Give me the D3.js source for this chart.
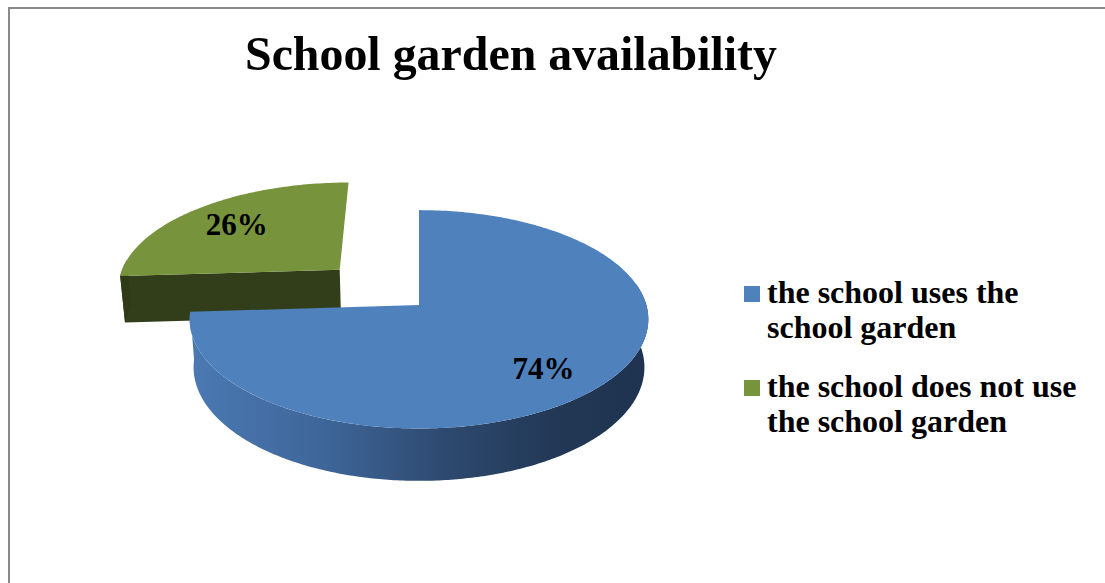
<!DOCTYPE html>
<html>
<head>
<meta charset="utf-8">
<script src="https://cdn.jsdelivr.net/npm/d3@7/dist/d3.min.js"></script>
<style>
  html, body { margin: 0; padding: 0; background: #ffffff; }
  svg { display: block; }
</style>
</head>
<body>
<svg id="chart" width="1105" height="583"></svg>
<script>
// ---- data ----
const categories = ["the school uses the school garden", "the school does not use the school garden"];
const values = [74, 26];
const valueLabels = ["74%", "26%"];
const legendLines = [["the school uses the", "school garden"], ["the school does not use", "the school garden"]];
const title = "School garden availability";

// ---- styles ----
const topColors = ["#4F81BD", "#77933C"];
const radialColors = ["#1f3350", "#323e19"];
const wallColorsGreen = "#2f3a17";
const explode = [0, 0.5];

const svg = d3.select("#chart");
const W = 1105, H = 583;

// border
svg.append("rect").attr("x", 9).attr("y", 8).attr("width", W + 10).attr("height", H + 10)
  .attr("fill", "#ffffff").attr("stroke", "#8a8a8a").attr("stroke-width", 2);

// title
svg.append("text").attr("x", 511).attr("y", 70).attr("text-anchor", "middle")
  .attr("font-family", "'Liberation Serif', 'Times New Roman', serif").attr("font-weight", "bold")
  .attr("font-size", 49).attr("textLength", 532).attr("lengthAdjust", "spacingAndGlyphs")
  .attr("fill", "#000").text(title);

// ---- 3D perspective projection ----
const cx = 419, cy = 305, F = 1530, L = 6.73, R = 1, thick = 0.242;
const phi = Math.asin(0.472), sp = Math.sin(phi), cp = Math.cos(phi);
function proj(u, w, h) {
  const d = L - (h * sp + w * cp);
  const yc = h * cp - w * sp;
  return [cx + F * u / d, cy - F * yc / d];
}

const pie = d3.pie().sort(null).startAngle(0).endAngle(2 * Math.PI);
const arcs = pie(values);

const line = d3.line().x(p => p[0]).y(p => p[1]);

function rimPts(a0, a1, ou, ow, h, n) {
  const pts = [];
  for (let i = 0; i <= n; i++) {
    const a = a0 + (a1 - a0) * i / n;
    pts.push(proj(ou + R * Math.sin(a), ow - R * Math.cos(a), h));
  }
  return pts;
}

// gradient for blue wall
const defs = svg.append("defs");
const grad = defs.append("linearGradient").attr("id", "wallBlue")
  .attr("gradientUnits", "userSpaceOnUse").attr("x1", 190).attr("x2", 648).attr("y1", 0).attr("y2", 0);
[[0, "#4b79b3"], [0.3, "#3e6598"], [0.55, "#2e4a70"], [0.8, "#223855"], [1, "#1f3350"]]
  .forEach(s => grad.append("stop").attr("offset", s[0]).attr("stop-color", s[1]));

const g = svg.append("g");
// draw back (exploded green) slice first, then blue
const order = [1, 0];
order.forEach(i => {
  const arc = arcs[i];
  const mid = (arc.startAngle + arc.endAngle) / 2;
  const ou = explode[i] * Math.sin(mid), ow = -explode[i] * Math.cos(mid);
  const a0 = arc.startAngle, a1 = arc.endAngle;
  const n = Math.max(8, Math.round((a1 - a0) * 60));
  const wallFill = i === 0 ? "url(#wallBlue)" : wallColorsGreen;
  // radial faces (only those facing the viewer)
  [[a0, a0 - Math.PI / 2], [a1, a1 + Math.PI / 2]].forEach(([a, na]) => {
    if (-Math.cos(na) <= 0.05) return;
    const pts = [proj(ou, ow, 0), proj(ou + R * Math.sin(a), ow - R * Math.cos(a), 0),
                 proj(ou + R * Math.sin(a), ow - R * Math.cos(a), -thick), proj(ou, ow, -thick)];
    g.append("path").attr("d", line(pts) + "Z").attr("fill", radialColors[i]);
  });
  // outer wall (front-facing part only)
  const w0 = Math.max(a0, Math.PI / 2 - 0.2), w1 = Math.min(a1, 1.5 * Math.PI + 0.1);
  if (w1 > w0) {
    const topRim = rimPts(w0, w1, ou, ow, 0, n);
    const botRim = rimPts(w0, w1, ou, ow, -thick, n).reverse();
    g.append("path").attr("d", line(topRim.concat(botRim)) + "Z").attr("fill", wallFill);
  }
  // top face
  const face = [proj(ou, ow, 0)].concat(rimPts(a0, a1, ou, ow, 0, n));
  g.append("path").attr("d", line(face) + "Z").attr("fill", topColors[i]);
});

// value labels
const labelR = [0.72, 0.66];
const labelDx = [-3, -8];
const labelDy = [17, 7];
arcs.forEach((arc, i) => {
  const mid = (arc.startAngle + arc.endAngle) / 2;
  const ou = explode[i] * Math.sin(mid), ow = -explode[i] * Math.cos(mid);
  const p = proj(ou + labelR[i] * Math.sin(mid), ow - labelR[i] * Math.cos(mid), 0);
  svg.append("text").attr("x", p[0] + labelDx[i]).attr("y", p[1] + labelDy[i]).attr("text-anchor", "middle")
    .attr("font-family", "'Liberation Serif', 'Times New Roman', serif").attr("font-weight", "bold")
    .attr("font-size", 31).attr("fill", "#000").text(valueLabels[i]);
});

// legend
const legY = [286, 380];
categories.forEach((c, i) => {
  const lg = svg.append("g").attr("transform", `translate(744,${legY[i]})`);
  lg.append("rect").attr("x", 0).attr("y", 0).attr("width", 16).attr("height", 16).attr("fill", topColors[i]);
  legendLines[i].forEach((t, j) => {
    lg.append("text").attr("x", 23).attr("y", 17 + j * 35)
      .attr("font-family", "'Liberation Serif', 'Times New Roman', serif").attr("font-weight", "bold")
      .attr("font-size", 32).attr("fill", "#000").text(t);
  });
});
</script>
</body>
</html>
